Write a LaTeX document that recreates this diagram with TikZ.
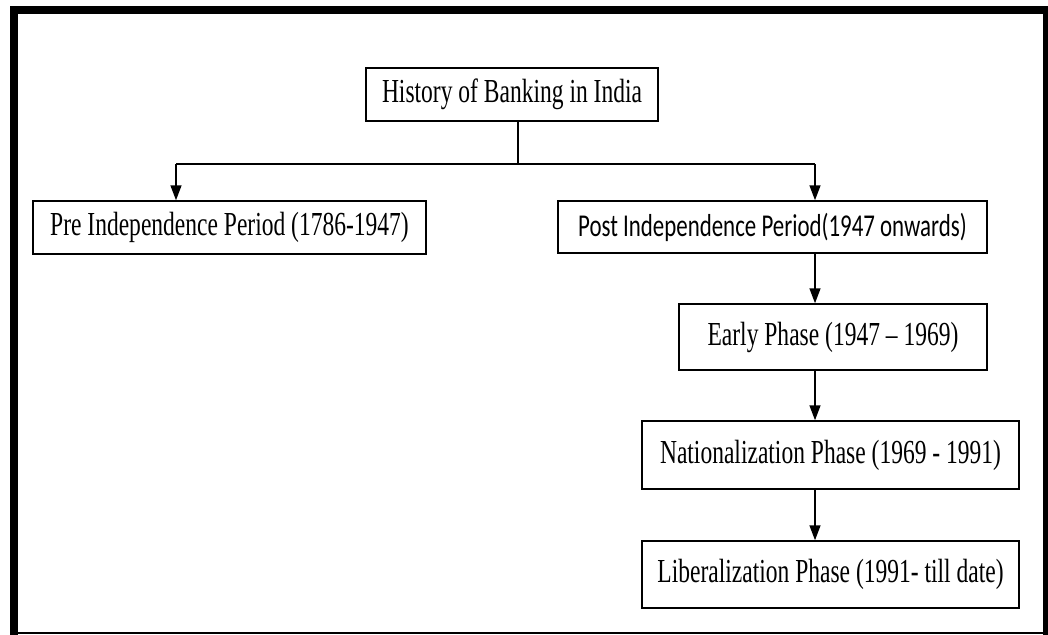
\documentclass[tikz,border=0pt]{standalone}
\usepackage{fontspec}
\setmainfont{Liberation Serif}[FakeStretch=0.7]
\newfontfamily\calfont{Carlito}[FakeStretch=0.72]
\usetikzlibrary{arrows.meta}

\tikzset{
    phase/.style={shape=rectangle, draw=black, line width=1.5pt, inner sep=0pt,
        font=\fontsize{33.6}{36}\selectfont},
    link/.style={line width=1.5pt, -{Triangle[width=11pt, length=15pt]}}
}

\begin{document}
\begin{tikzpicture}[x=1pt, y=-1pt]
                \useasboundingbox (0, 0) rectangle (1048, 634);

                % frame round the chart
                \draw[line width=8pt] (13.5, 640) -- (13.5, 10) -- (1046.5, 10) -- (1046.5, 640);
                \draw[line width=1.5pt] (10, 633) -- (1048, 633);

                \node[phase, minimum width=292pt, minimum height=53pt] (H) at (512, 94.5) {History of Banking in India};
                \node[phase, minimum width=393pt, minimum height=53pt] (Pre) at (229.5, 227.5) {Pre Independence Period (1786-1947)};
                \node[phase, minimum width=429pt, minimum height=52pt, font=\calfont\fontsize{31.8}{34}\selectfont] (Post) at (772.5, 227) {Post Independence Period(1947 onwards)};
                \node[phase, minimum width=308pt, minimum height=66pt] (Early) at (833, 337) {Early Phase (1947 -- 1969)};
                \node[phase, minimum width=377pt, minimum height=68pt] (Nat) at (830.5, 455) {Nationalization Phase (1969 - 1991)};
                \node[phase, minimum width=377pt, minimum height=67pt] (Lib) at (830.5, 574.5) {Liberalization Phase (1991- till date)};

                \coordinate (hub) at (518, 164);
                \coordinate (preIn) at (176, 164);
                \coordinate (postIn) at (815, 164);

                \draw[line width=1.5pt] (hub |- H.south) -- (hub);
                \draw[line width=1.5pt] (preIn) -- (postIn);
                \draw[link] (preIn) -- (preIn |- Pre.north);
                \draw[link] (postIn) -- (postIn |- Post.north);
                \draw[link] (postIn |- Post.south) -- (postIn |- Early.north);
                \draw[link] (postIn |- Early.south) -- (postIn |- Nat.north);
                \draw[link] (postIn |- Nat.south) -- (postIn |- Lib.north);
            \end{tikzpicture}
\end{document}
